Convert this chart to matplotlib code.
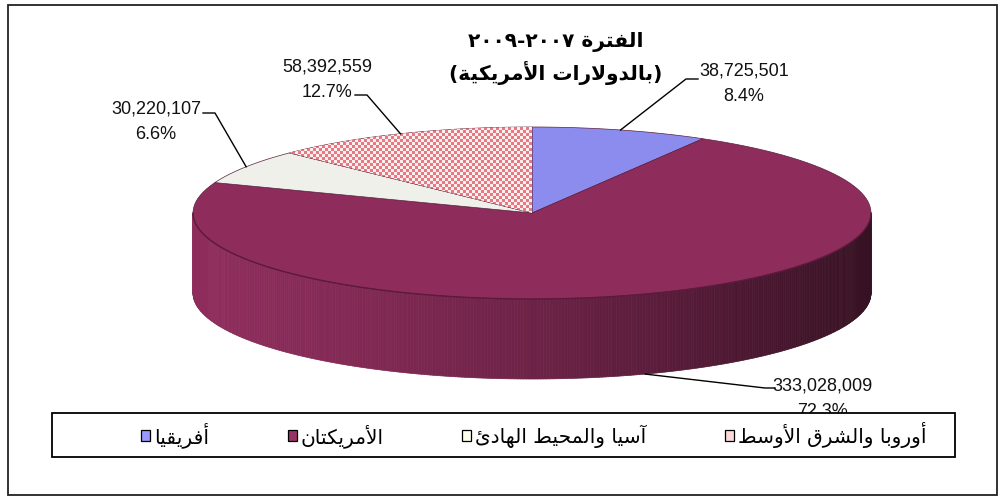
import re
import numpy as np
import matplotlib
matplotlib.use('Agg')
import matplotlib.pyplot as plt
from matplotlib.patches import Polygon, Rectangle, Patch
from matplotlib.collections import PolyCollection

# Data
regions = ['أفريقيا', 'الأمريكتان', 'آسيا والمحيط الهادئ', 'أوروبا والشرق الأوسط']
amounts = [38725501, 333028009, 30220107, 58392559]
title_lines = ['الفترة ٢٠٠٧-٢٠٠٩', '(بالدولارات الأمريكية)']

# Styles
colors = ['#8c8cee', '#8e2d5c', '#eff0ea', '#e87a86']
legend_faces = ['#9999ff', '#993366', '#ffffee', '#fbd9d9']
label_pos = [(744, 84), (822, 399), (156, 122), (327, 80)]
leader_bend = [(686, 79), (765, 388), (215, 113), (367, 95)]
leader_end = [(698, 79), (775, 388), (203, 113), (355, 95)]

# Pie geometry in pixels
CX, CY, RX, RY, DEPTH = 532, 213, 339, 86, 80

# --- minimal Arabic shaping (matplotlib does not join letters itself) ---
_letters = 'ءآأؤإئابةتثجحخدذرزسشصضطظعغفقكلمنهوىي'
_counts = [1, 2, 2, 2, 2, 4, 2, 4, 2, 4, 4, 4, 4, 4, 2, 2, 2, 2, 4, 4,
           4, 4, 4, 4, 4, 4, 4, 4, 4, 4, 4, 4, 4, 2, 2, 4]
FORMS = {}
code = 0xFE80
for ch, n in zip(_letters, _counts):
    FORMS[ch] = (code, n)
    code += n
LAM_ALEF = {'آ': 0xFEF5, 'أ': 0xFEF7, 'إ': 0xFEF9, 'ا': 0xFEFB}


def shape(text):
    out = []
    i = 0
    while i < len(text):
        c = text[i]
        if c not in FORMS:
            out.append(c)
            i += 1
            continue
        prev = text[i - 1] if i > 0 else ''
        linked_prev = prev in FORMS and FORMS[prev][1] == 4
        if c == 'ل' and i + 1 < len(text) and text[i + 1] in LAM_ALEF:
            out.append(chr(LAM_ALEF[text[i + 1]] + linked_prev))
            i += 2
            continue
        base, n = FORMS[c]
        nxt = text[i + 1] if i + 1 < len(text) else ''
        linked_next = n == 4 and nxt in FORMS and FORMS[nxt][1] > 1
        if n == 1:
            k = 0
        elif linked_prev and linked_next:
            k = 3
        elif linked_prev:
            k = 1
        elif linked_next:
            k = 2
        else:
            k = 0
        out.append(chr(base + k))
        i += 1
    return ''.join(out)


def rtl(text):
    runs = re.findall(r'[0-9\u0660-\u0669]+|[^0-9\u0660-\u0669]+', shape(text))
    mirror = str.maketrans('()', ')(')
    return ''.join(r if r[0].isdigit() else r[::-1].translate(mirror)
                   for r in reversed(runs))


def rim(theta, drop=0.0):
    t = np.radians(theta)
    return CX + RX * np.cos(t), CY - RY * np.sin(t) + drop


plt.rcParams['font.family'] = ['DejaVu Sans']
fig = plt.figure(figsize=(10.05, 5.0), dpi=100)
ax = fig.add_axes([0, 0, 1, 1])
ax.set_xlim(0, 1005)
ax.set_ylim(500, 0)
ax.axis('off')

frac = np.array(amounts) / sum(amounts)
cum = np.concatenate([[0], np.cumsum(frac)]) * 360
bounds = 90 - cum  # clockwise from 12 o'clock

# side wall (front half), shaded left to right
thetas = np.linspace(180, 360, 361)
quads, qcolors = [], []
for t0, t1 in zip(thetas[:-1], thetas[1:]):
    x0, y0 = rim(t0)
    x1, y1 = rim(t1)
    off = (90 - (t0 + t1) / 2) % 360
    idx = min(np.searchsorted(cum, off) - 1, len(amounts) - 1)
    base = np.array(matplotlib.colors.to_rgb(colors[idx]))
    s = ((x0 + x1) / 2 - (CX - RX)) / (2 * RX)
    f = 1 - 0.62 * s ** 1.4
    quads.append([(x0, y0), (x1, y1), (x1, y1 + DEPTH), (x0, y0 + DEPTH)])
    qcolors.append(base * f)
ax.add_collection(PolyCollection(quads, facecolors=qcolors, edgecolors=qcolors,
                                 linewidths=0.5, zorder=1))

# top face slices
for i in range(len(amounts)):
    arc = np.linspace(bounds[i], bounds[i + 1], 120)
    xs, ys = rim(arc)
    pts = [(CX, CY)] + list(zip(xs, ys))
    poly = Polygon(pts, closed=True, facecolor=colors[i], edgecolor='#5a2040',
                   linewidth=0.5, zorder=2)
    ax.add_patch(poly)
    if i == 3:
        # checkered fill for Europe
        h, w = 2 * RY, 2 * RX
        yy, xx = np.mgrid[0:h, 0:w]
        chk = ((yy // 3 + xx // 3) % 2).astype(bool)
        tex = np.empty((h, w, 3))
        tex[chk] = np.array([232, 120, 132]) / 255
        tex[~chk] = np.array([255, 240, 238]) / 255
        im = ax.imshow(tex, extent=(CX - RX, CX + RX, CY + RY, CY - RY),
                       origin='upper', interpolation='nearest', aspect='auto', zorder=2.5)
        im.set_clip_path(poly)

# rim line between top face and wall
fx, fy = rim(np.linspace(180, 360, 200))
ax.plot(fx, fy, color='#5e1a3c', lw=1.0, zorder=3)

# data labels with leader lines
num_font = ['Liberation Sans Narrow', 'Liberation Sans', 'DejaVu Sans']
for i, v in enumerate(amounts):
    mid = (bounds[i] + bounds[i + 1]) / 2
    drop = DEPTH if np.sin(np.radians(mid)) < 0 else 0
    ax_, ay_ = rim(mid, drop)
    ax.plot([ax_, leader_bend[i][0], leader_end[i][0]],
            [ay_, leader_bend[i][1], leader_end[i][1]], color='black', lw=1.0, zorder=3)
    ax.text(label_pos[i][0], label_pos[i][1], f'{v:,}\n{frac[i] * 100:.1f}%',
            ha='center', va='center', fontsize=13, family=num_font,
            linespacing=1.65, color='#111111', zorder=3)

# title
ax.text(556, 42, rtl(title_lines[0]), ha='center', va='center',
        fontsize=14.5, fontweight='bold', zorder=3)
ax.text(556, 73, rtl(title_lines[1]), ha='center', va='center',
        fontsize=14.5, fontweight='bold', zorder=3)

# legend box and entries
ax.add_patch(Rectangle((52, 413), 903, 44, facecolor='white', edgecolor='black',
                       lw=1.3, zorder=4))
handles = [Patch(facecolor=c, edgecolor='black', linewidth=0.9) for c in legend_faces]
leg = ax.legend(handles, [rtl(r) for r in regions], ncol=4, loc='center',
                bbox_to_anchor=(534 / 1005, 1 - 435 / 500), frameon=False,
                prop={'family': 'DejaVu Sans', 'size': 14.5},
                handlelength=0.45, handleheight=0.45, handletextpad=0.2,
                columnspacing=3.9)
leg.set_zorder(5)

# outer border
ax.add_patch(Rectangle((8, 5), 989, 490, facecolor='none', edgecolor='#222222',
                       lw=1.3, zorder=6))

fig.savefig('out.png', dpi=100)
